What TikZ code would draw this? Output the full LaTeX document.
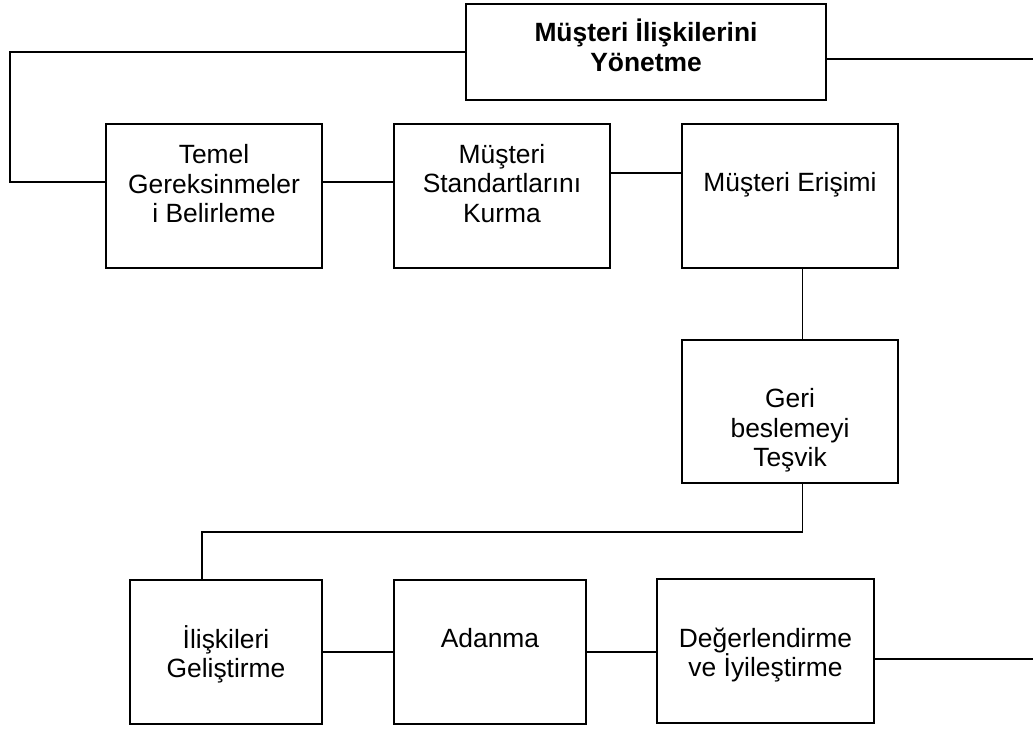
\documentclass[tikz,border=0pt]{standalone}
\usepackage{fontspec}
\setmainfont{Liberation Sans}
\begin{document}
\begin{tikzpicture}[x=1pt, y=-1pt,
  wire/.style={line width=1.9pt},
  box/.style={draw, line width=1.9pt, inner sep=0pt, minimum width=#1},
  box/.default=216pt,
  txt/.style={inner sep=0pt, align=center, font=\fontsize{26.4}{29.5}\selectfont},
  btxt/.style={txt, font=\fontsize{26.4}{29.5}\selectfont\bfseries}]
\useasboundingbox[fill=white] (0,0) rectangle (1033,729);

% process boxes
\node[box=360pt, minimum height=96pt]  (top)   at (646,52)    {};
\node[box, minimum height=144pt]       (temel) at (214,196)   {};
\node[box, minimum height=144pt]       (std)   at (502,196)   {};
\node[box, minimum height=144pt]       (eris)  at (790,196)   {};
\node[box, minimum height=143pt]       (geri)  at (790,411.5) {};
\node[box=192pt, minimum height=144pt] (ilis)  at (226,652)   {};
\node[box=192pt, minimum height=144pt] (adan)  at (490,652)   {};
\node[box=217pt, minimum height=144pt] (deger) at (765.5,651) {};

% box labels
\node[btxt] (top-t)   at ([yshift=6.5pt]top.center)   {Müşteri İlişkilerini\\Yönetme};
\node[txt]  (temel-t) at ([yshift=12pt]temel.center)  {Temel\\Gereksinmeler\\i Belirleme};
\node[txt]  (std-t)   at ([yshift=12.5pt]std.center)  {Müşteri\\Standartlarını\\Kurma};
\node[txt]  (eris-t)  at ([yshift=11pt]eris.center)   {Müşteri Erişimi};
\node[txt]  (geri-t)  at ([yshift=-19pt]geri.center)  {Geri\\beslemeyi\\Teşvik};
\node[txt]  (ilis-t)  at ([yshift=-2.5pt]ilis.center) {İlişkileri\\Geliştirme};
\node[txt]  (adan-t)  at ([yshift=14pt]adan.center)   {Adanma};
\node[txt]  (deger-t) at ([yshift=-4pt]deger.center)  {Değerlendirme\\ve İyileştirme};

% bend points and free ends
\coordinate (lbend)  at (10,52);
\coordinate (tend)   at (1033,59);
\coordinate (mbend)  at (802.5,532);
\coordinate (bend2)  at (202,532);
\coordinate (bend)   at (1033,659);

% connectors
\draw[wire] (top.west) -- (lbend) |- ([yshift=14pt]temel.west);
\draw[wire] ([yshift=14pt]temel.east) -- ([yshift=14pt]std.west);
\draw[wire] ([yshift=23pt]std.east) -- ([yshift=23pt]eris.west);
\draw[wire] ([yshift=-7pt]top.east) -- (tend);
\draw[wire] ([xshift=12.5pt]eris.south) -- ([xshift=12.5pt]geri.north);
\draw[wire] ([xshift=12.5pt]geri.south) -- (mbend) -- (bend2) -- (bend2 |- ilis.north);
\draw[wire] (ilis.east) -- (adan.west);
\draw[wire] (adan.east) -- (adan.east -| deger.west);
\draw[wire] ([yshift=-8pt]deger.east) -- (bend);
\end{tikzpicture}
\end{document}
